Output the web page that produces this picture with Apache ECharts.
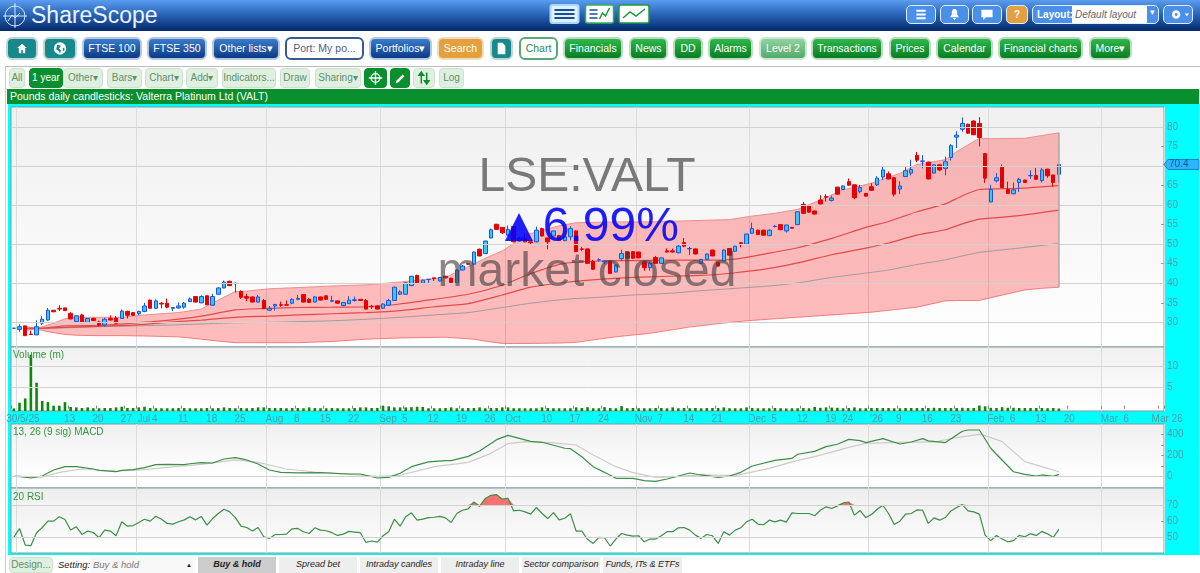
<!DOCTYPE html>
<html>
<head>
<meta charset="utf-8">
<title>ShareScope VALT</title>
<script src="https://cdn.jsdelivr.net/npm/echarts@6/dist/echarts.min.js"></script>
<style>
  html, body { margin: 0; padding: 0; background: #fff; overflow: hidden; }
  body { width: 1200px; height: 573px; position: relative; font-family: "Liberation Sans", Arial, sans-serif; }
  #chrome div, #chrome span { position: absolute; box-sizing: border-box; }
  #header { left: 0; top: 0; width: 1200px; height: 31px; background: linear-gradient(#5a9cf0, #2a66b8 45%, #04296b); }
  #logo { left: 31px; top: -1px; font-size: 23px; line-height: 32px; color: #eaf3ff; font-weight: 500; }
  .btn { height: 23px; top: 37px; line-height: 19px; border: 2px solid #c4d4d4; border-radius: 6px; color: #fff; text-align: center; font-size: 10.5px; white-space: nowrap; }
  .navy { background: linear-gradient(#3a7ccc, #0a3a85); border-color: #b7c7dc; }
  .green { background: linear-gradient(#2db84c, #0a7d22); border-color: #bcdcc2; }
  .teal { background: #17898c; border-color: #bcd6d6; }
  .orange { background: #e4a03e; border-color: #eedcbc; }
  .lite { background: linear-gradient(#8fd3a0, #55a96c); border-color: #cfe6d4; }
  .white { background: #fff; color: #50607a; border-color: #3a5a8c; }
  .whiteg { background: #fff; color: #2f8a4a; border-color: #5aa878; }
  .tool { height: 20px; top: 68px; line-height: 18px; border: 1px solid #cde2cd; border-radius: 4px; background: #e0f0e0; color: #5f8f6f; text-align: center; font-size: 10px; white-space: nowrap; }
  .dark { background: #0a8f2e; color: #fff; border-color: #0a8f2e; }
  .top { height: 19px; top: 5px; border: 1px solid #dfeeff; border-radius: 5px; background: #4a8fe8; }
  .tab { height: 16px; top: 557px; line-height: 15px; background: #eee; color: #222; text-align: center; font-size: 9px; font-style: italic; white-space: nowrap; }
  svg { position: absolute; left: 0; top: 0; width: 100%; height: 100%; }
  #frame { left: 8px; top: 104px; width: 1191px; height: 451px; background: #00ffff; }
  #main { position: absolute; left: 0; top: 0; width: 1200px; height: 573px; }
</style>
</head>
<body>
<div id="chrome"></div>
<div id="main"></div>
<script>
// Chart values
const slotCount = 203;
const tickDays = [0, 10, 15, 20, 22, 25, 30, 35, 40, 45, 50, 55, 60, 65, 69, 74, 79, 84, 87, 94, 99, 104, 110, 114, 119, 124, 130, 134, 139, 144, 147, 151, 156, 161, 166, 172, 176, 181, 186, 192, 196, 202];
const tickText = ['30/5/25', '13', '20', '27', 'Jul', '4', '11', '18', '25', 'Aug', '8', '15', '22', 'Sep', '5', '12', '19', '26', 'Oct', '10', '17', '24', 'Nov', '7', '14', '21', 'Dec', '5', '12', '19', '24', "'26", '9', '16', '23', 'Feb', '6', '13', '20', 'Mar', '6', 'Mar 26'];
const monthDays = [1, 22, 45, 65, 87, 110, 130, 151, 172, 192];

// open, close, low, high
const candles = [
  [28.5,28.5,28.5,28.5],[28.2,28.9,27.6,29.5],[29.1,26.6,26.6,29.1],[27,26.9,26.9,27.9],[26.8,28.9,26.8,30.5],
  [29.8,30.8,29.3,31.6],[30.6,33.1,30.4,33.7],[33.1,32.7,32.7,33.1],[33.6,33.4,32.9,34.4],[33.7,33,33,33.7],
  [32.3,30.9,30.7,32.6],[30.2,31.7,30.1,31.8],[31.9,30,29.9,32.2],[30,31,29.9,31.1],[31,30.5,30.4,31.2],
  [30.1,29.3,29,30.4],[29.3,30.8,28.9,31.2],[31,30.6,30.5,31.8],[31.1,29.8,29.7,31.6],[31,32.9,30.9,33.3],
  [32.8,31.8,31,33],[32.5,31.8,31.7,32.6],[32.2,32.8,31.8,33],[32.8,34.2,32.6,35],[35.7,33.6,33.5,35.8],
  [33.6,35.5,33.4,35.9],[34.9,34.7,33.6,35.2],[34.9,33.9,33.6,36.1],[33.6,33.8,32.9,33.9],[33.7,34.2,33.5,35.1],
  [33.9,34.9,33.5,35.2],[35.3,36,35.2,36.4],[36.6,35.2,35.1,36.7],[35,36.6,34.9,36.9],[36.8,34.5,34.4,36.9],
  [34.4,36.6,34.2,37.3],[37.2,38.8,37.1,39],[38.8,40.3,38.7,40.7],[40.5,39.4,39.3,40.7],[39.9,40,37.6,40.2],
  [37.9,36.4,36,38.2],[36.6,36.2,35.4,37.3],[36.5,35.2,35.1,36.6],[35.2,36.5,35.1,37],[35.6,33.5,33.4,36],
  [33.1,33.6,32.9,34.2],[34.2,34.6,33,34.7],[34.5,34.4,34,35.3],[34.5,34.4,34.4,35.6],[34.9,35.9,34.8,36.2],
  [35.9,36.1,35.7,37],[37.1,35.2,35.1,37.2],[35.9,35.1,35,36.2],[35.2,36.5,35.1,36.7],[36.5,35.7,35.6,36.6],
  [36.8,35.9,35.8,36.9],[35.4,35.6,35.4,36.8],[35.5,34.9,34.8,35.6],[34.3,35.1,34.2,35.2],[34.8,35.7,34.7,36.7],
  [35.6,35.8,35.3,36.6],[35.9,35.6,35.5,36],[35.6,33.4,33.3,36],[34.1,34,33.4,34.5],[34.2,33.4,33.3,34.3],
  [33.6,34.7,33.5,34.9],[34.4,35.6,34.3,36],[35.6,39,35.5,39.1],[37.2,37.8,37,38.2],[37.2,40.1,37,40.3],
  [39.4,41.8,39.3,41.9],[42,40,39.9,42.2],[40,40.8,39.9,40.9],[41,41,40.1,41.1],[41.4,41.2,40.6,41.4],
  [40.6,41.5,40.5,41.6],[41.8,41.4,41.3,41.9],[41.3,40.2,40.1,41.4],[40,43.4,39.9,43.6],[43.4,44.4,43.3,44.7],
  [45,44.9,44.8,45.1],[44.9,48,44.8,48.1],[48.7,47,46.9,48.9],[47.6,50.8,47.5,50.9],[51.6,53.7,51.5,54],
  [55.1,53.8,53.7,55.2],[54.3,52.9,52.6,54.4],[52.3,53.8,52.2,54.8],[54.5,50.6,50.5,54.6],[50.8,51.5,50.6,51.8],
  [51.4,50.6,50.5,52.8],[50.6,50.4,50,50.7],[50.6,53.6,50.5,54.5],[54,52.1,52,54.2],[51.6,50.6,48.7,51.7],
  [52.1,53.4,52,53.5],[52.2,51,50.9,52.3],[50.9,51.9,50.8,52],[51.9,54,51,54.6],[53.4,48.1,48,53.5],
  [48.8,48.7,48.2,49.3],[48.8,45.1,45,48.9],[45.6,43.6,43.5,46],[46,46,45.5,46.4],[45.5,45.7,44.9,45.9],
  [45.7,42.5,42.4,45.8],[42.9,44.7,42.8,44.8],[46.3,47.6,45.8,48.6],[48,46.4,46.3,48.1],[48.1,46.4,46.3,48.2],
  [48,46.5,46.4,48.1],[45.5,44,43.2,45.6],[44,45.1,43.2,45.5],[46.6,45.1,45,47],[45.1,46.5,45,46.6],
  [48.3,48,47.9,48.9],[48.3,48,47.9,48.9],[47.8,49.5,47.7,49.8],[50.4,49.5,49.2,51.6],[48.8,48.9,47.2,49.3],
  [48.8,47.5,47.4,48.9],[45.1,46.1,45,46.2],[46.1,47.5,46,47.6],[48.5,47,46.9,48.6],[45.4,44.4,44.3,45.5],
  [45.7,48.5,45.6,48.6],[48.9,47.2,47.1,49],[48.2,49.5,48.1,49.6],[50.4,50.2,49.2,50.5],[50,52.6,49.9,52.7],
  [52.8,54,52.7,55.5],[53.6,52.5,52.4,53.7],[53.6,52.3,52.2,53.7],[52.2,53.6,52.1,53.7],[54.5,54.6,54.3,54.9],
  [55,53.7,53.6,55.1],[53.4,54.9,53,55],[54.3,54.1,54,54.4],[55,58.3,54.9,58.4],[60.2,57.9,57.7,60.8],
  [59.8,58.2,58.1,59.9],[58.5,57.7,57.6,58.6],[61.3,60.3,60.2,62.5],[62.2,62,60.9,62.8],[61.2,61.8,60.9,62.4],
  [64.6,62.8,62.7,64.7],[64,64.9,63.9,65],[66,65.1,65,66.8],[65.2,61.9,61.5,65.3],[63.5,64.5,63,65.2],
  [63,62.3,62.2,63.1],[64.7,63.8,63.7,65.6],[65.2,66.9,64.9,67.4],[67.2,69,66.4,69.9],[68,66.7,66.6,68.6],
  [67,62.8,62.2,67.1],[64.1,64.9,62.8,66.1],[67.3,68.8,67.2,69.7],[68.2,69.1,67.6,71.6],[72.7,71.5,71,73.6],
  [71.2,71.3,69.4,72.8],[71,66.7,66.6,71.1],[68.2,70.3,68.1,70.4],[70.3,69,68.7,70.4],[69.4,71.1,67.6,72.4],
  [72.2,75.2,71.4,75.6],[77.4,77.9,74.6,78.9],[79.4,80.9,78.8,82.4],[80.7,78.4,78.3,80.8],[81.5,78,77.9,81.7],
  [80.9,77.3,75,82.5],[73.2,66.9,65.7,73.3],[60.8,64,60.7,65.2],[66.2,67,65.8,68.2],[69.8,64.5,64.4,70.4],
  [64,63,62.9,66],[62.9,63.9,62.8,65.8],[65.8,66.6,63.4,67],[66.4,65.8,65.7,66.5],[67.5,67.6,66.7,68.9],
  [67.6,66.6,66.5,69.5],[66.3,69,65.8,69.5],[69.2,67.5,67,69.3],[67.7,65.8,64.7,67.8],[67.9,70.4,65.7,70.5]
];

const bandDays = [2, 4, 6, 9, 11, 15, 19, 23, 29, 33, 36, 39, 41, 45, 50, 56, 62, 68, 76, 81, 83, 86, 88, 90, 96, 99, 106, 112, 119, 126, 130, 134, 138, 142, 146, 151, 156, 159, 164, 166, 168, 170, 172, 178, 181, 184];
const bandUpper = [28.9, 28.5, 29.3, 30.9, 31.3, 31.3, 31.3, 31.9, 32.5, 33.4, 35.7, 37.9, 38, 38.6, 38.9, 39.3, 39.6, 40.3, 41.5, 44.9, 46.4, 48.3, 50.2, 52.3, 54.7, 55.5, 55.7, 55.7, 56, 56.3, 57.2, 57.9, 58.9, 61.3, 63.9, 65.6, 68.1, 70.4, 71.6, 73.7, 75.4, 77.1, 77, 77.1, 77.8, 78.5];
const bandLower = [28, 28.3, 27.6, 26.9, 26.7, 26.6, 26.6, 26.5, 26.3, 25.7, 25.2, 24.8, 24.8, 24.8, 24.8, 25.1, 25.7, 26, 26.2, 25.7, 25.2, 24.6, 24.6, 24.6, 24.7, 24.9, 26.3, 27.2, 28.8, 30, 30.5, 30.9, 31.3, 31.7, 32.1, 32.6, 33.4, 33.9, 35.5, 35.6, 35.6, 35.6, 36.3, 38.3, 38.7, 39];

const avgDays = [2, 5, 9, 15, 21, 27, 33, 39, 45, 50, 56, 62, 68, 74, 80, 86, 91, 97, 103, 109, 115, 121, 127, 133, 138, 144, 150, 154, 159, 164, 167, 170, 177, 184];
const avgFast = [28.5, 28.5, 29.1, 29.2, 29.8, 30.5, 31.6, 33.2, 33.6, 33.8, 33.9, 34, 34.7, 35.9, 37.2, 39.5, 42.5, 45.1, 45.7, 45.8, 45.9, 45.9, 46.2, 47.7, 49.1, 51.5, 54.3, 55.8, 58.3, 60.3, 62.4, 64, 64.3, 65];
const avgMid = [28.5, 28.5, 28.7, 29, 29.3, 30, 30.6, 31.3, 31.6, 31.9, 32.2, 32.5, 33, 34, 34.8, 37, 39, 40.2, 41, 41.5, 41.8, 42, 42.7, 43.8, 45.2, 47.3, 49, 50.3, 52.3, 53.7, 55.2, 56.4, 57.3, 58.7];
const avgSlow = [28.5, 28.5, 28.6, 28.9, 29.1, 29.3, 29.6, 29.9, 30, 30.2, 30.4, 30.8, 31.3, 31.9, 32.5, 33.8, 34.9, 35.9, 36.4, 37, 37.4, 38.1, 38.7, 39.3, 40.1, 41.5, 42.6, 43.4, 44.8, 46, 47, 47.9, 49, 50.2];

const volume = [
  0.05, 1.4, 2.4, 12.7, 6.1, 1.8, 1.55, 0.7, 0.7, 1.55, 0.4, 0.3, 0.15, 0.3, 0.1, 0.1, 0.15, 0.15, 0.3, 0.45,
  0.15, 0.15, 0.3, 0.45, 0.15, 0.1, 0.1, 0.1, 0.1, 0.15, 0.15, 0.1, 0.1, 0.1, 0.15, 0.1, 0.15, 0.3, 0.15, 0.1,
  0.15, 0.1, 0.15, 0.3, 0.3, 0.15, 0.15, 0.15, 0.1, 0.15, 0.15, 0.1, 0.3, 0.15, 0.1, 0.1, 0.15, 0.1, 0.1, 0.1,
  0.15, 0.3, 0.3, 0.15, 0.15, 0.7, 0.55, 0.3, 0.3, 0.3, 0.35, 0.45, 0.4, 0.1, 0.1, 0.1, 0.15, 0.3, 0.1, 0.1,
  0.15, 0.15, 0.3, 0.1, 0.15, 0.15, 0.3, 0.3, 0.1, 0.1, 0.1, 0.1, 0.1, 0.3, 0.15, 0.1, 0.1, 0.1, 0.1, 0.3,
  0.15, 0.35, 0.1, 0.1, 0.35, 0.15, 0.1, 0.6, 0.1, 0.15, 0.1, 0.1, 0.1, 0.15, 0.15, 0.1, 0.3, 0.1, 0.15, 0.1,
  0.15, 0.1, 0.15, 0.15, 0.15, 0.3, 0.1, 0.1, 0.1, 0.3, 0.15, 0.1, 0.1, 0.1, 0.15, 0.1, 0.05, 0.1, 0.1, 0.15,
  0.1, 0.4, 0.2, 0.3, 0.25, 0.2, 0.1, 0.15, 0.3, 0.1, 0.1, 0.15, 0.15, 0.15, 0.15, 0.1, 0.1, 0.15, 0.15, 0.15,
  0.15, 0.15, 0.2, 0.15, 0.15, 0.15, 0.15, 0.2, 0.15, 0.15, 0.75, 0.55, 0.2, 0.15, 0.35, 0.2, 0.2, 0.15, 0.15, 0.15,
  0.15, 0.15, 0.1, 0.15, 0.05
];
const volumeFloor = -0.55;

const macdDays = [0, 1, 3, 5, 7, 9, 11, 14, 15, 18, 19, 21, 23, 25, 27, 30, 31, 33, 35, 37, 39, 41, 43, 45, 47, 50, 54, 59, 61, 64, 66, 68, 70, 73, 76, 77, 80, 82, 85, 87, 91, 93, 97, 98, 100, 102, 104, 106, 109, 111, 113, 115, 119, 121, 124, 126, 128, 130, 134, 137, 138, 141, 143, 145, 147, 149, 150, 153, 156, 158, 160, 161, 164, 167, 168, 170, 172, 173, 176, 178, 180, 181, 183, 184];
const macdLine = [0, 0, -16, 3, 60, 92, 92, 70, 57, 44, 57, 63, 83, 111, 114, 111, 120, 130, 127, 165, 178, 156, 117, 60, 38, 32, 35, 22, 22, -16, -10, 29, 92, 137, 149, 149, 190, 241, 349, 390, 333, 324, 267, 263, 187, 92, 38, -19, -19, -41, -48, -25, 32, 13, -10, 3, 38, 98, 152, 171, 210, 238, 283, 305, 352, 340, 321, 359, 308, 327, 359, 337, 321, 429, 441, 441, 267, 210, 44, 19, 3, 13, 0, 19];
const signalDays = [0, 3, 5, 8, 12, 18, 22, 27, 33, 39, 43, 48, 53, 59, 64, 68, 74, 80, 84, 87, 90, 94, 99, 102, 106, 109, 113, 116, 121, 127, 133, 138, 141, 147, 150, 156, 162, 166, 170, 171, 174, 176, 178, 181, 184];
const signalLine = [0, -10, -6, 38, 70, 51, 60, 86, 114, 156, 133, 70, 41, 19, 0, 10, 92, 133, 219, 311, 330, 324, 298, 203, 92, 35, -10, -6, 13, 6, 76, 152, 187, 276, 314, 324, 327, 368, 400, 387, 330, 235, 140, 92, 44];

const rsi = [
  50, 55.5, 45.3, 44.9, 52.9, 56.1, 60, 60, 62.7, 61, 54.5, 56.5, 51.8, 53.9, 53, 49.8, 54.5, 53.9, 51, 59.6,
  56.9, 57.3, 59.2, 61.2, 60, 63, 61.2, 58.6, 58.2, 59.6, 60.8, 62.7, 60.8, 62.9, 57.6, 61.6, 64.7, 67.3, 65.7, 62.2,
  56.9, 56.1, 53.9, 56.1, 50.4, 49.4, 51.8, 51.8, 52, 55.3, 55.5, 53.5, 52.4, 55.9, 54.5, 54.1, 52.9, 51.2, 52, 53.7,
  53.3, 52.9, 46.9, 47.8, 47.1, 51, 53.5, 61.2, 56.9, 62.7, 65.1, 60.6, 61.2, 62.2, 62.4, 62.9, 62, 59.2, 64.7, 66.7,
  67.6, 71.8, 69, 73.9, 75.9, 76.3, 73.5, 74.1, 66.3, 66.7, 65.7, 64.3, 68.4, 64.7, 61.6, 65.3, 60.8, 61.8, 64.5, 53.9,
  53.9, 48.8, 46.3, 50, 49.8, 44.7, 49, 52.4, 51.4, 50.8, 51, 47.3, 49, 49, 51, 53.5, 53.5, 55.9, 56.1, 54.5,
  51.4, 49.4, 51.8, 51, 46.3, 53.5, 51.4, 54.5, 55.9, 59.6, 61.2, 58.2, 57.8, 60.6, 59.6, 60.6, 59.4, 65.1, 64.7, 64.7,
  64.7, 63.3, 66.7, 68.8, 67.8, 69.4, 71.2, 71.8, 63.7, 66.5, 62.2, 64.1, 67.3, 69.8, 64.7, 58, 60, 64.3, 64.7, 66.9,
  66.7, 58.6, 62, 60.6, 62.2, 66.3, 68.4, 70.2, 66.3, 65.7, 64.3, 51.4, 48, 51.2, 49, 47.3, 48, 51.2, 50.4, 52.2,
  51.2, 53.7, 52.2, 50, 54.9
];

const priceTicks = [30, 35, 40, 45, 50, 55, 60, 65, 70, 75, 80];
const priceLines = [30, 40, 50, 60, 70, 80];
const volumeTicks = [5, 10];
const macdLabels = [0, 200, 400];
const macdMarks = [0, 100, 200, 300, 400];
const rsiTicks = [50, 60, 70];
const rsiLines = [50, 70];

// Page furniture around the chart
const chrome = document.getElementById('chrome');
function box(cls, x0, x1, text, top) {
    const el = document.createElement('div');
    el.className = cls;
    el.style.left = x0 + 'px';
    el.style.width = (x1 - x0) + 'px';
    if (top !== undefined) el.style.top = top + 'px';
    if (text.charAt(0) === '<') el.innerHTML = text; else el.textContent = text;
    chrome.appendChild(el);
    return el;
}
const caret = '\u25BE';
const icons = {
    home: '<svg viewBox="0 0 24 24"><path fill="#fff" d="M12 6l-6 5.5h2V18h3v-4h2v4h3v-6.5h2z"/></svg>',
    globe: '<svg viewBox="0 0 30 20"><circle cx="15" cy="10" r="6.5" fill="#fff"/><path fill="#17898c" d="M12 6l4 1-2 3 2 2-1 3-2-3-2-1zM18 9l2 1-1 3-1-1z"/></svg>',
    doc: '<svg viewBox="0 0 20 20"><path fill="#fff" d="M6 4h5l3 3v9H6z"/></svg>',
    cross: '<svg viewBox="0 0 22 18"><g fill="none" stroke="#fff" stroke-width="1.4"><circle cx="11" cy="9" r="4.5"/><path d="M11 2v14M4 9h14"/></g></svg>',
    pen: '<svg viewBox="0 0 20 18"><path fill="#fff" d="M6 12l7-7 2 2-7 7-3 1z"/></svg>',
    updown: '<svg viewBox="0 0 22 18"><path stroke="#0a8f2e" stroke-width="1.6" fill="#0a8f2e" d="M8 15V5M5.5 6L8 2.5 10.5 6zM14 3v10M11.500 12L14 15.500 16.500 12z"/></svg>',
    list: '<svg viewBox="0 0 30 18"><path stroke="#fff" stroke-width="2" d="M10 5h10M10 9h10M10 13h10"/></svg>',
    bell: '<svg viewBox="0 0 30 18"><path fill="#fff" d="M15 3c3 0 3 3 3 6l2 3H10l2-3c0-3 0-6 3-6zM13 13h4l-2 2z"/></svg>',
    chat: '<svg viewBox="0 0 30 18"><path fill="#fff" d="M9 4h12v8h-7l-3 3v-3H9z"/></svg>',
    gear: '<svg viewBox="0 0 30 18"><circle cx="13" cy="9" r="3" fill="none" stroke="#fff" stroke-width="3"/><path fill="#fff" d="M22 8h5l-2.500 3z"/></svg>',
    bars: '<svg viewBox="0 0 30 20"><rect x="1" y="1" width="28" height="18" rx="2" fill="#dff0ff" stroke="#a8d8f8" stroke-width="2"/><path stroke="#14509a" stroke-width="2" d="M5 6h20M5 10h20M5 14h20"/></svg>',
    spark1: '<svg viewBox="0 0 30 20"><rect x="1" y="1" width="28" height="18" rx="2" fill="#fff" stroke="#35b050" stroke-width="1.500"/><path stroke="#14509a" stroke-width="1.500" d="M5 6h8M5 10h8M5 14h8"/><path fill="none" stroke="#1a9a3a" stroke-width="1.500" d="M15 15l3-6 3 3 4-8"/></svg>',
    spark2: '<svg viewBox="0 0 32 20"><rect x="1" y="1" width="30" height="18" rx="2" fill="#fff" stroke="#1a9a3a" stroke-width="1.500"/><path fill="none" stroke="#1a9a3a" stroke-width="1.500" d="M5 14l7-6 6 4 9-7"/></svg>'
};

box('', 0, 1200, '').id = 'header';
box('', 31, 175, 'ShareScope').id = 'logo';
const logoMark = box('', 2, 28, '<svg viewBox="0 0 26 26"><g fill="none" stroke="#d5e6fb" stroke-width="1"><circle cx="13" cy="14" r="10"/><path d="M13 1v25M1 14h24M6 19l4-6 3 3 5-5"/></g></svg>');
logoMark.style.top = '2px';
logoMark.style.height = '26px';
[[549, 580, icons.bars], [584, 615, icons.spark1], [618, 650, icons.spark2]].forEach(function (b) {
    const el = box('', b[0], b[1], b[2]);
    el.style.top = '4px';
    el.style.height = '20px';
});
box('top', 906, 936, icons.list);
box('top', 940, 969, icons.bell);
box('top', 972, 1002, icons.chat);
const help = box('top', 1006, 1028, '?');
help.style.background = '#e4a03e';
help.style.cssText += 'color:#fff;text-align:center;font:bold 10px/17px "Liberation Sans";';
const layout = box('top', 1032, 1159, '<span style="left:4px;top:2px;color:#fff;font:bold 10px/14px \'Liberation Sans\'">Layout:</span><span style="left:39px;top:0;width:75px;height:17px;background:#fff;color:#666;font:italic 10px/17px \'Liberation Sans\';padding-left:3px">Default layout</span><span style="left:117px;top:1px;color:#fff;font-size:9px">' + caret + '</span>');
box('top', 1163, 1193, icons.gear);

[
    ['teal', 6, 38, icons.home], ['teal', 43, 77, icons.globe], ['navy', 82, 142, 'FTSE 100'], ['navy', 147, 207, 'FTSE 350'],
    ['navy', 212, 280, 'Other lists' + caret], ['white', 285, 364, 'Port: My po...'], ['navy', 369, 432, 'Portfolios' + caret],
    ['orange', 437, 484, 'Search'], ['teal', 490, 513, icons.doc], ['whiteg', 519, 558, 'Chart'], ['green', 563, 623, 'Financials'],
    ['green', 629, 668, 'News'], ['green', 673, 703, 'DD'], ['green', 708, 753, 'Alarms'], ['lite', 759, 807, 'Level 2'],
    ['green', 811, 883, 'Transactions'], ['green', 889, 931, 'Prices'], ['green', 936, 993, 'Calendar'],
    ['green', 998, 1083, 'Financial charts'], ['green', 1089, 1132, 'More' + caret]
].forEach(function (b) { box('btn ' + b[0], b[1], b[2], b[3]); });

const rule = box('', 5, 1200, '');
rule.style.cssText += 'top:66px;height:1px;background:#bbb;';
const leftRule = box('', 5, 6, '');
leftRule.style.cssText += 'top:66px;height:507px;background:#ccc;';

[
    ['', 9, 25, 'All'], ['dark', 29, 63, '1 year'], ['', 63, 103, 'Other' + caret], ['', 107, 142, 'Bars' + caret], ['', 145, 183, 'Chart' + caret],
    ['', 186, 218, 'Add' + caret], ['', 222, 276, 'Indicators...'], ['', 280, 310, 'Draw'], ['', 315, 361, 'Sharing' + caret],
    ['dark', 364, 387, icons.cross], ['dark', 390, 410, icons.pen], ['', 413, 435, icons.updown], ['', 439, 464, 'Log']
].forEach(function (b) { box('tool ' + b[0], b[1], b[2], b[3]); });

const titleBar = box('', 7, 1199, 'Pounds daily candlesticks: Valterra Platinum Ltd (VALT)');
titleBar.style.cssText += 'top:89px;height:15px;background:#0a8f2e;color:#fff;font-size:10.5px;line-height:15px;padding-left:3px;';
box('', 8, 1199, '').id = 'frame';

const design = box('tool', 9, 53, 'Design...', 557);
design.style.height = '16px';
design.style.lineHeight = '14px';
const settingLabel = box('', 58, 90, 'Setting:');
settingLabel.style.cssText += 'top:557px;height:16px;color:#222;font:italic 9.5px/15px "Liberation Sans";';
const settingInput = box('', 90, 194, 'Buy & hold');
settingInput.style.cssText += 'top:557px;height:16px;color:#777;background:#f8f8f8;font:italic 9.5px/15px "Liberation Sans";padding-left:3px;';
const settingArrow = box('', 186, 194, '\u25B2');
settingArrow.style.cssText += 'top:557px;height:16px;color:#222;font:6px/17px "Liberation Sans";';
const activeTab = box('tab', 198, 276, 'Buy & hold');
activeTab.style.background = '#ccc';
activeTab.style.fontWeight = 'bold';
[[279, 357, 'Spread bet'], [360, 438, 'Intraday candles'], [441, 519, 'Intraday line'], [522, 600, 'Sector comparison'], [603, 682, 'Funds, ITs & ETFs']].forEach(function (b) {
    box('tab', b[0], b[1], b[2]);
});

// Chart
const categories = [];
for (let i = 0; i < slotCount; i++) categories.push(String(i));
function pairs(days, values) { return days.map(function (d, k) { return [d, values[k]]; }); }
function isMonth(index) { return monthDays.indexOf(index) >= 0; }
function isTick(index) { return tickDays.indexOf(index) >= 0; }
function paneBg(stops) {
    return new echarts.graphic.LinearGradient(0, 0, 0, 1, stops.map(function (s) { return { offset: s[0], color: s[1] }; }));
}
function hLines(values) {
    return {
        silent: true, symbol: 'none', animation: false, precision: 1,
        label: { show: false },
        lineStyle: { color: '#d2d2d2', width: 1, type: 'solid' },
        data: values.map(function (v) { return { yAxis: v }; })
    };
}
const monthLine = { show: true, interval: isMonth, lineStyle: { color: '#dcdcdc', width: 1 } };
const axisText = '#4f9ca4';
const fontName = '"Liberation Sans", Arial, sans-serif';

function xAxisFor(gridIndex, withLabels) {
    return {
        type: 'category', gridIndex: gridIndex, data: categories, boundaryGap: true,
        axisLine: { show: false },
        axisTick: withLabels ? { show: true, inside: true, length: 3, interval: isTick, lineStyle: { color: '#888' } } : { show: false },
        axisLabel: withLabels ? {
            show: true, interval: isTick, margin: 3, color: axisText, fontSize: 10, fontFamily: fontName,
            formatter: function (value) {
                const day = Number(value);
                const t = tickText[tickDays.indexOf(day)];
                if (day === 0) return '{start|' + t + '}';
                if (day === 202) return '{end|' + t + '}';
                if (isMonth(day) || t === "'26") return '{month|' + t + '}';
                return '{day|' + t + '}';
            },
            rich: {
                start: { color: axisText, fontSize: 10, padding: [0, 0, 0, 18] },
                end: { color: axisText, fontSize: 10, padding: [0, 0, 0, 12] },
                month: { color: axisText, fontSize: 10, padding: [0, 0, 0, 10] },
                day: { color: axisText, fontSize: 10, padding: [0, 2, 0, 0] }
            }
        } : { show: false },
        splitLine: monthLine
    };
}
function yAxisFor(gridIndex, min, max, labels, marks) {
    return {
        type: 'value', gridIndex: gridIndex, position: 'right', min: min, max: max, scale: true,
        axisLine: { show: false },
        axisTick: { show: true, inside: true, length: 3, customValues: marks, lineStyle: { color: '#9a9a9a' } },
        axisLabel: { show: true, inside: false, margin: 3, customValues: labels, color: axisText, fontSize: 10, fontFamily: fontName },
        splitLine: { show: false }
    };
}
function volumeBar(params, api) {
    const top = api.coord([api.value(0), api.value(1)]);
    const base = api.coord([api.value(0), volumeFloor]);
    return { type: 'rect', shape: { x: top[0] - 1.3, y: top[1], width: 2.6, height: base[1] - top[1] }, style: { fill: '#0a8a0a' } };
}

const chart = echarts.init(document.getElementById('main'), null, { renderer: 'canvas' });
const lastClose = candles[candles.length - 1][1];
const lastDay = bandDays[bandDays.length - 1];
const wmFont = '"Liberation Sans", Arial, sans-serif';
const option = {
    animation: false,
    backgroundColor: 'transparent',
    grid: [
        { left: 11, right: 36, top: 107, height: 240, show: true, borderColor: '#7f9c9c', borderWidth: 1, backgroundColor: paneBg([[0, '#f0f0f0'], [0.6, '#f9f9f9'], [1, '#ffffff']]) },
        { left: 11, right: 36, top: 347, height: 64, show: true, borderColor: '#7f9c9c', borderWidth: 1, backgroundColor: paneBg([[0, '#f0f0f0'], [1, '#ffffff']]) },
        { left: 11, right: 36, top: 424, height: 64, show: true, borderColor: '#7f9c9c', borderWidth: 1, backgroundColor: paneBg([[0, '#efefef'], [0.8, '#ffffff'], [1, '#ffffff']]) },
        { left: 11, right: 36, top: 488, height: 65, show: true, borderColor: '#7f9c9c', borderWidth: 1, backgroundColor: paneBg([[0, '#ebebeb'], [0.26, '#f4f4f4'], [0.26, '#f1f1f1'], [1, '#ffffff']]) }
    ],
    xAxis: [xAxisFor(0, false), xAxisFor(1, true), xAxisFor(2, false), xAxisFor(3, false)],
    yAxis: [
        yAxisFor(0, 23.7, 85.1, priceTicks, priceTicks),
        yAxisFor(1, volumeFloor, 14.5, volumeTicks, volumeTicks),
        yAxisFor(2, -111, 498, macdLabels, macdMarks),
        yAxisFor(3, 40.4, 80.4, rsiTicks, rsiTicks)
    ],
    series: [
        {
            name: 'Lower band', type: 'line', xAxisIndex: 0, yAxisIndex: 0, stack: 'band', z: 1, showSymbol: false,
            data: pairs(bandDays, bandLower),
            lineStyle: { color: '#ef8f8f', width: 1 },
            markLine: hLines(priceLines)
        },
        {
            name: 'Upper band', type: 'line', xAxisIndex: 0, yAxisIndex: 0, stack: 'band', z: 2, showSymbol: false,
            data: bandDays.map(function (d, k) { return [d, bandUpper[k] - bandLower[k]]; }),
            lineStyle: { color: '#ef8f8f', width: 1 },
            areaStyle: { color: 'rgba(255,50,50,0.32)', opacity: 1 },
            markLine: {
                silent: true, symbol: 'none', animation: false, label: { show: false },
                lineStyle: { color: '#b5a5a5', width: 1.5, type: 'solid' },
                data: [[{ xAxis: lastDay, yAxis: bandUpper[bandUpper.length - 1] }, { xAxis: lastDay, yAxis: bandLower[bandLower.length - 1] }]]
            }
        },
        { name: 'Slow average', type: 'line', xAxisIndex: 0, yAxisIndex: 0, z: 3, showSymbol: false, smooth: 0.2, data: pairs(avgDays, avgSlow), lineStyle: { color: '#a59a9a', width: 1 } },
        { name: 'Mid average', type: 'line', xAxisIndex: 0, yAxisIndex: 0, z: 3, showSymbol: false, smooth: 0.2, data: pairs(avgDays, avgMid), lineStyle: { color: '#e24a4a', width: 1.2 } },
        { name: 'Fast average', type: 'line', xAxisIndex: 0, yAxisIndex: 0, z: 3, showSymbol: false, smooth: 0.2, data: pairs(avgDays, avgFast), lineStyle: { color: '#e24a4a', width: 1.2 } },
        {
            name: 'VALT', type: 'candlestick', xAxisIndex: 0, yAxisIndex: 0, z: 4, barWidth: 4, data: candles,
            itemStyle: { color: '#3cc4ff', color0: '#e60000', borderColor: '#1a55e0', borderColor0: '#e60000', borderColorDoji: '#1a55e0', borderWidth: 1 }
        },
        {
            name: 'Volume', type: 'custom', xAxisIndex: 1, yAxisIndex: 1, z: 3, renderItem: volumeBar, encode: { x: 0, y: 1 },
            data: volume.map(function (v, i) { return [i, v]; }),
            markLine: hLines(volumeTicks)
        },
        {
            name: 'Signal', type: 'line', xAxisIndex: 2, yAxisIndex: 2, z: 3, showSymbol: false,
            data: pairs(signalDays, signalLine), lineStyle: { color: '#cfcaca', width: 1.2 },
            markLine: hLines([0])
        },
        { name: 'MACD', type: 'line', xAxisIndex: 2, yAxisIndex: 2, z: 4, showSymbol: false, data: pairs(macdDays, macdLine), lineStyle: { color: '#3c8f46', width: 1.2 } },
        {
            name: 'RSI overbought', type: 'line', xAxisIndex: 3, yAxisIndex: 3, z: 3, showSymbol: false,
            data: rsi.map(function (v) { return Math.max(v, 70); }),
            lineStyle: { width: 0 },
            areaStyle: { origin: 70, color: '#f87171', opacity: 1 },
            markLine: hLines(rsiLines)
        },
        { name: 'RSI', type: 'line', xAxisIndex: 3, yAxisIndex: 3, z: 4, showSymbol: false, data: rsi, lineStyle: { color: '#3c8f46', width: 1.2 } }
    ],
    graphic: [
        { id: 'vol', type: 'text', x: 13, y: 355, z: 50, style: { text: 'Volume (m)', fill: '#2f9a3a', font: '10px ' + wmFont, verticalAlign: 'middle' } },
        { id: 'macd', type: 'text', x: 13, y: 432, z: 50, style: { text: '13, 26 (9 sig) MACD', fill: '#2f9a3a', font: '10px ' + wmFont, verticalAlign: 'middle' } },
        { id: 'rsi', type: 'text', x: 13, y: 497, z: 50, style: { text: '20 RSI', fill: '#2f9a3a', font: '10px ' + wmFont, verticalAlign: 'middle' } },
        { id: 'wm1', type: 'text', x: 587, y: 178, z: 60, style: { text: 'LSE:VALT', fill: 'rgba(90,90,90,0.8)', font: '48px ' + wmFont, align: 'center', verticalAlign: 'middle' } },
        { id: 'wm2', type: 'text', x: 587, y: 228, z: 60, style: { text: '\u25B26.99%', fill: 'rgba(0,0,250,0.88)', font: '48px ' + wmFont, align: 'center', verticalAlign: 'middle' } },
        { id: 'wm3', type: 'text', x: 587, y: 273, z: 60, style: { text: 'market closed', fill: 'rgba(70,60,60,0.62)', font: '48px ' + wmFont, align: 'center', verticalAlign: 'middle' } }
    ]
};
chart.setOption(option);

// Last price tag on the right axis
const tagY = chart.convertToPixel({ yAxisIndex: 0 }, lastClose);
chart.setOption({
    graphic: [
        { id: 'tag', type: 'polygon', z: 70, shape: { points: [[1164, tagY], [1168, tagY - 5], [1199, tagY - 5], [1199, tagY + 5], [1168, tagY + 5]] }, style: { fill: '#2bb6ff', stroke: '#1a7fc0', lineWidth: 1 } },
        { id: 'tagText', type: 'text', x: 1169, y: tagY, z: 71, style: { text: lastClose.toFixed(1), fill: '#0a5a8a', font: '10px ' + wmFont, verticalAlign: 'middle' } }
    ]
});
</script>
</body>
</html>
